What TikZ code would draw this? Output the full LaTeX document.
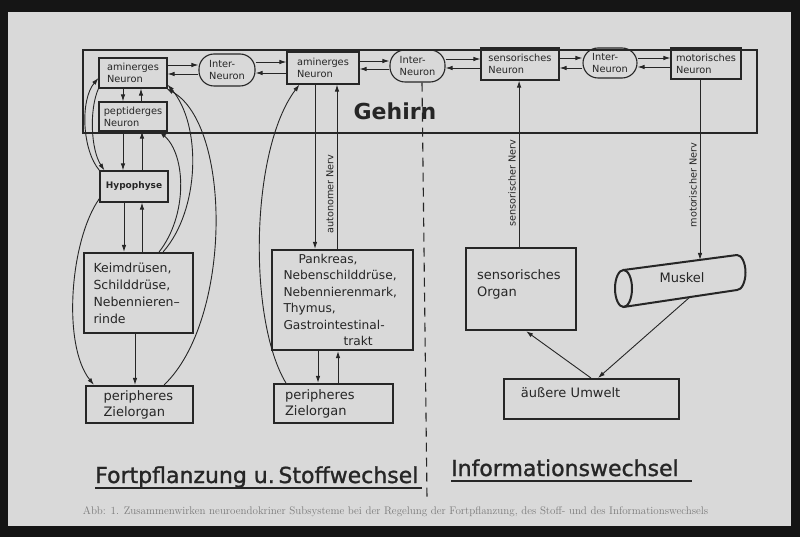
\documentclass[tikz,border=0pt]{standalone}
\usepackage{fontspec}
\newfontfamily\dv{DejaVu Sans}
\newfontfamily\dvt[RawFeature={embolden=1.2}]{DejaVu Sans}
\usetikzlibrary{arrows.meta,calc}
\definecolor{ink}{HTML}{262626}
\definecolor{paper}{HTML}{D9D9D9}
\definecolor{frame}{HTML}{151515}
\definecolor{captxt}{HTML}{7A7A7A}
\begin{document}
\begin{tikzpicture}[x=1pt,y=-1pt,
  nbox/.style={draw=ink,line width=1.1pt,inner sep=0pt,text=ink,align=left,font=\dv\fontsize{9.8}{12}\selectfont},
  stadium/.style={nbox,rounded corners=15pt},
  bigbox/.style={draw=ink,line width=2.2pt,inner sep=0pt,text=ink,align=left,font=\dv\fontsize{12.5}{17}\selectfont},
  conn/.style={draw=ink,line width=0.9pt},
  arr/.style={conn,-{Latex[length=7pt,width=4.5pt]}},
  nervlabel/.style={rotate=90,text=ink,inner sep=0pt,font=\dv\fontsize{9.7}{10}\selectfont},
  ttl/.style={anchor=base west,inner sep=0pt,text=ink,font=\dvt\fontsize{22}{22}\selectfont},
  uline/.style={draw=ink,line width=1.6pt},
]
\useasboundingbox (0,0) rectangle (800,537);
\fill[frame] (0,0) rectangle (800,537);
\fill[paper] (8,12) rectangle (791,526);

% dashed separator
\coordinate (dashEnd) at (427,498);

% brain frame
\node[draw=ink,line width=1.2pt,minimum width=674pt,minimum height=83pt,inner sep=0pt] (brain) at (420,91.5) {};

% top row
\node[nbox,minimum width=68pt,minimum height=30pt] (am1) at (133,73) {aminerges\\Neuron};
\node[nbox,minimum width=68pt,minimum height=29pt] (pep) at (133,116.5) {peptiderges\\Neuron};
\node[stadium,minimum width=56pt,minimum height=32pt] (int1) at (227,70) {Inter-\\Neuron};
\node[nbox,minimum width=72pt,minimum height=32pt] (am2) at (323,68) {aminerges\\Neuron};
\node[stadium,minimum width=55pt,minimum height=32pt] (int2) at (417.5,66) {Inter-\\Neuron};
\node[nbox,minimum width=78pt,minimum height=32pt] (sen) at (520,64) {sensorisches\\Neuron};
\node[stadium,minimum width=54pt,minimum height=30pt] (int3) at (610,63) {Inter-\\Neuron};
\node[nbox,minimum width=70pt,minimum height=31pt] (mot) at (706,63.5) {motorisches\\Neuron};

\draw[dashed,dash pattern=on 9pt off 6pt,draw=ink,line width=1.1pt] ([xshift=4.5pt]int2.south) -- (dashEnd);
\node[text=ink,inner sep=0pt,font=\dv\bfseries\fontsize{22}{22}\selectfont] (geh) at (395,111.5) {Gehirn};

% left column
\node[nbox,font=\dv\bfseries\fontsize{9}{10}\selectfont,minimum width=68pt,minimum height=31pt] (hyp) at (134,186.5) {Hypophyse};
\node[bigbox,minimum width=109pt,minimum height=80pt,text width=90pt] (keim) at (138.5,293) {Keimdrüsen,\\Schilddrüse,\\Nebennieren–\\rinde};
\node[bigbox,font=\dv\fontsize{13}{16}\selectfont,minimum width=107pt,minimum height=37pt,text width=72pt] (per1) at (139.5,404.5) {peripheres\\Zielorgan};

% middle column
\node[bigbox,font=\dv\fontsize{12.2}{16.5}\selectfont,minimum width=141pt,minimum height=100pt,text width=118pt] (pank) at (342.5,300) {\hspace*{15pt}Pankreas,\\Nebenschilddrüse,\\Nebennierenmark,\\Thymus,\\Gastrointestinal-\\\hspace*{60pt}trakt};
\node[bigbox,font=\dv\fontsize{13}{16}\selectfont,minimum width=119pt,minimum height=39pt,text width=97pt] (per2) at (333.5,403.5) {peripheres\\Zielorgan};

% right column
\node[bigbox,font=\dv\fontsize{13}{17}\selectfont,anchor=north west,minimum width=110pt,text width=88pt,text height=31pt,text depth=51pt] (sorg) at (465,247) {sensorisches\\Organ};
\node[bigbox,line width=1.9pt,font=\dv\fontsize{13}{16}\selectfont,anchor=north west,minimum width=175pt,text width=141pt,text height=19pt,text depth=21pt] (umw) at (503,378) {äußere Umwelt};

% muscle cylinder
\draw[draw=ink,line width=2pt] (623.5,288.5) ellipse [x radius=8.5,y radius=18.5];
\draw[draw=ink,line width=2pt,line join=round] (623.5,270) -- (737,255) arc[start angle=-90,end angle=90,x radius=8.5,y radius=17.5] -- (623.5,307);
\node[text=ink,inner sep=0pt,font=\dv\fontsize{13}{13}\selectfont] (mus) at (682,278) {Muskel};
\coordinate (musTop) at (700,260);
\coordinate (musBot) at (690,297);

% top row connectors
\draw[arr] ([yshift=8pt]am1.east) -- ([yshift=8pt]am1.east -| int1.west);
\draw[arr] ([yshift=-1pt]am1.east -| int1.west) -- ([yshift=-1pt]am1.east);
\draw[arr] ([yshift=6pt]am2.west -| int1.east) -- ([yshift=6pt]am2.west);
\draw[arr] ([yshift=-5pt]am2.west) -- ([yshift=-5pt]am2.west -| int1.east);
\draw[arr] ([yshift=7pt]am2.east) -- ([yshift=7pt]am2.east -| int2.west);
\draw[arr] ([yshift=-1pt]am2.east -| int2.west) -- ([yshift=-1pt]am2.east);
\draw[arr] ([yshift=5pt]sen.west -| int2.east) -- ([yshift=5pt]sen.west);
\draw[arr] ([yshift=-4pt]sen.west) -- ([yshift=-4pt]sen.west -| int2.east);
\draw[arr] ([yshift=6pt]sen.east) -- ([yshift=6pt]sen.east -| int3.west);
\draw[arr] ([yshift=-4pt]sen.east -| int3.west) -- ([yshift=-4pt]sen.east);
\draw[arr] ([yshift=5.5pt]mot.west -| int3.east) -- ([yshift=5.5pt]mot.west);
\draw[arr] ([yshift=-3.5pt]mot.west) -- ([yshift=-3.5pt]mot.west -| int3.east);

% left column verticals
\draw[arr] ([xshift=-10pt]am1.south) -- ([xshift=-10pt]am1.south |- pep.north);
\draw[arr] ([xshift=8pt]pep.north) -- ([xshift=8pt]pep.north |- am1.south);
\draw[arr] ([xshift=-10pt]pep.south) -- ([xshift=-10pt]pep.south |- hyp.north);
\draw[arr] ([xshift=8pt]hyp.north) -- ([xshift=8pt]hyp.north |- pep.south);
\draw[arr] ([xshift=-10pt]hyp.south) -- ([xshift=-10pt]hyp.south |- keim.north);
\draw[arr] ([xshift=3.5pt]keim.north) -- ([xshift=3.5pt]keim.north |- hyp.south);
\draw[arr] ([xshift=-3.5pt]keim.south) -- ([xshift=-3.5pt]keim.south |- per1.north);

% left column curves
\draw[arr] (hyp.north west) .. controls (82,150) and (80,100) .. ([yshift=-5pt]am1.west);
\draw[arr] (am1.south west) .. controls (89,110) and (91,150) .. ([xshift=5pt]hyp.north west);
\draw[arr] ([yshift=-12pt]hyp.west) .. controls (70,240) and (62,345) .. ([xshift=9pt]per1.north west);
\draw[arr] ([xshift=-35pt]keim.north east) .. controls (188,215) and (186,155) .. ([xshift=-8pt]pep.south east);
\draw[arr] ([xshift=-31pt]keim.north east) .. controls (200,210) and (202,125) .. ([yshift=4pt]am1.south east);
\draw[arr] ([xshift=-30pt]per1.north east) .. controls (232,320) and (232,125) .. ([xshift=-1pt]am1.south east);

% middle column
\draw[arr] ([xshift=-8pt]am2.south) -- ([xshift=-8pt]am2.south |- pank.north);
\draw[arr] ([xshift=-5.5pt]pank.north) -- ([xshift=-5.5pt]pank.north |- am2.south);
\draw[arr] ([xshift=-24.5pt]pank.south) -- ([xshift=-24.5pt]pank.south |- per2.north);
\draw[arr] ([xshift=4.5pt]per2.north) -- ([xshift=4.5pt]per2.north |- pank.south);
\draw[arr] ([xshift=13pt]per2.north west) .. controls (248,320) and (250,150) .. ([xshift=13pt]am2.south west);
\node[nervlabel] (lblA) at (330,194) {autonomer Nerv};

% right column
\draw[arr] ([xshift=-2pt]sorg.north) -- ([xshift=-2pt]sorg.north |- sen.south);
\node[nervlabel] (lblS) at (512,183) {sensorischer Nerv};
\draw[arr] ([xshift=-6pt]mot.south) -- (musTop);
\node[nervlabel] (lblM) at (693,185) {motorischer Nerv};
\draw[arr] (musBot) -- ([xshift=6.5pt]umw.north);
\draw[arr] ([xshift=-0.5pt]umw.north) -- ([xshift=5pt]sorg.south);

% titles
\node[ttl] (t1) at (95,483) {Fortpflanzung u.\,Stoffwechsel};
\draw[uline] ([yshift=-5pt]t1.base west) -- ([xshift=3pt,yshift=-5pt]t1.base east);
\node[ttl] (t2) at (451,476) {Informationswechsel};
\draw[uline] ([yshift=-5pt]t2.base west) -- ([xshift=13pt,yshift=-5pt]t2.base east);

% caption
\node[inner sep=0pt,text=captxt,font=\fontsize{11}{12}\selectfont] (cap) at (395.5,512) {Abb: 1. Zusammenwirken neuroendokriner Subsysteme bei der Regelung der Fortpflanzung, des Stoff- und des Informationswechsels};
\end{tikzpicture}
\end{document}
